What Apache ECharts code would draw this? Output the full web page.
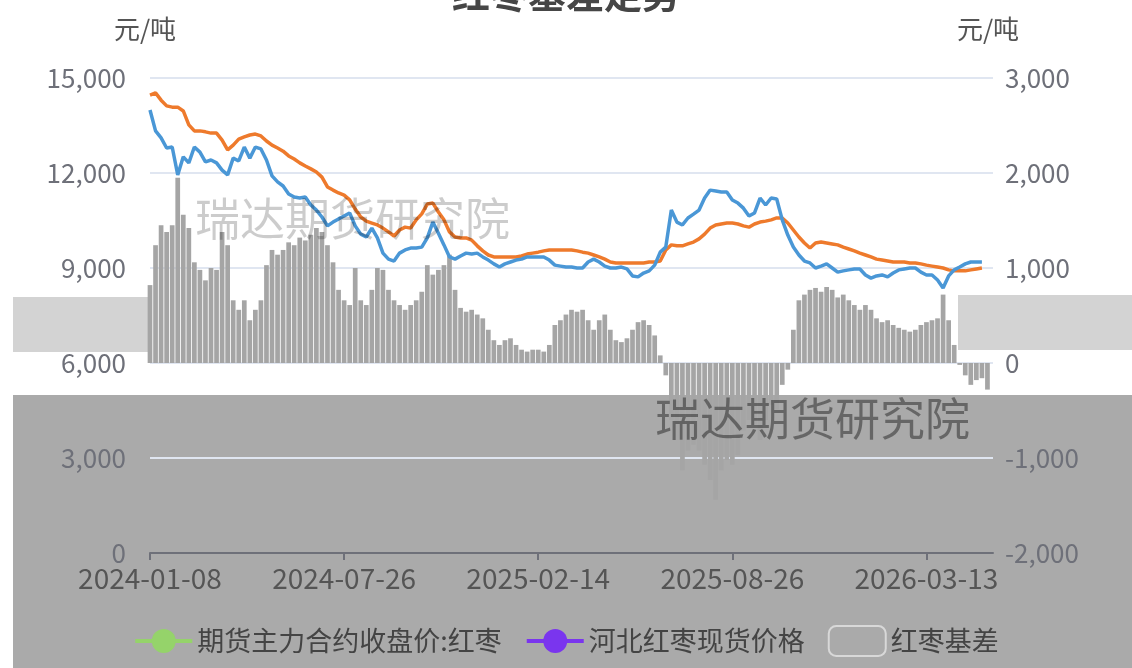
<!DOCTYPE html>
<html>
<head>
    <meta charset="utf-8">
    <title>红枣基差走势</title>
    <script src="https://cdn.jsdelivr.net/npm/echarts@6/dist/echarts.min.js"></script>
    <style>
        html, body { margin: 0; padding: 0; background: #fff; }
        #main { width: 1132px; height: 668px; }
    </style>
</head>
<body>
<div id="main"></div>
<script type="text/javascript">
    // 标注日期（每35个点一个标签）
    var anchorDates = ['2024-01-08', '2024-07-26', '2025-02-14', '2025-08-26', '2026-03-13'];
    var stepsPerLabel = 35;
    var extraPoints = 12;

    // 期货主力合约收盘价:红枣（元/吨）
    var futuresPrice = [
        13990, 13330, 13110, 12790, 12820, 11940, 12510, 12320, 12820, 12660,
        12350, 12410, 12320, 12090, 11940, 12470, 12380, 12820, 12470, 12820,
        12760, 12410, 11910, 11720, 11590, 11340, 11240, 11210, 11240, 10990,
        10830, 10610, 10330, 10450, 10550, 10640, 10740, 10330, 10070, 9980,
        10260, 9950, 9470, 9280, 9220, 9470, 9570, 9630, 9630, 9660,
        9950, 10450, 10100, 9730, 9350, 9280, 9380, 9470, 9440, 9470,
        9350, 9250, 9130, 9030, 9130, 9190, 9250, 9280, 9350, 9350,
        9350, 9350, 9250, 9090, 9060, 9030, 9030, 9000, 9000, 9190,
        9280, 9190, 9060, 9000, 9000, 9030, 8970, 8750, 8720, 8840,
        8910, 9090, 9500, 9660, 10830, 10450, 10360, 10580, 10700, 10830,
        11210, 11460, 11430, 11400, 11400, 11150, 11050, 10890, 10640, 10740,
        11210, 10990, 11210, 11180, 10520, 10040, 9660, 9410, 9220, 9160,
        9000, 9060, 9130, 9000, 8870, 8910, 8940, 8970, 8970, 8780,
        8680, 8750, 8780, 8720, 8840, 8940, 8970, 9000, 9000, 8870,
        8780, 8780, 8620, 8370, 8750, 8940, 9030, 9130, 9190, 9190,
        9190
    ];

    // 河北红枣现货价格（元/吨）
    var spotPrice = [
        14460, 14530, 14300, 14120, 14080, 14080, 13960, 13520, 13330, 13330,
        13300, 13260, 13260, 13040, 12730, 12880, 13070, 13140, 13200, 13230,
        13170, 13010, 12880, 12790, 12690, 12540, 12440, 12320, 12220, 12130,
        12030, 11870, 11560, 11460, 11370, 11300, 11150, 10860, 10610, 10480,
        10420, 10360, 10260, 10140, 10010, 10200, 10290, 10260, 10520, 10710,
        11020, 11050, 10770, 10520, 10140, 9980, 9950, 9950, 9880, 9700,
        9540, 9410, 9350, 9350, 9350, 9350, 9350, 9380, 9440, 9470,
        9500, 9540, 9570, 9570, 9570, 9570, 9570, 9540, 9500, 9470,
        9410, 9350, 9280, 9190, 9160, 9160, 9160, 9160, 9160, 9160,
        9190, 9190, 9220, 9570, 9730, 9700, 9700, 9760, 9820, 9920,
        10070, 10260, 10360, 10390, 10420, 10420, 10390, 10330, 10290, 10390,
        10450, 10480, 10520, 10580, 10580, 10420, 10200, 9980, 9790, 9630,
        9790, 9820, 9790, 9760, 9730, 9660, 9600, 9540, 9470, 9410,
        9350, 9280, 9250, 9220, 9190, 9190, 9190, 9160, 9160, 9130,
        9090, 9060, 9030, 9000, 8940, 8910, 8910, 8910, 8940, 8970,
        9000
    ];

    // 红枣基差（元/吨，右轴）
    var basis = [
        820, 1240, 1450, 1380, 1450, 1950, 1560, 1420, 1060, 980,
        870, 1000, 980, 1380, 1240, 660, 560, 660, 450, 560,
        660, 1030, 1190, 1140, 1190, 1270, 1240, 1320, 1290, 1350,
        1420, 1380, 1240, 1060, 770, 660, 610, 1000, 660, 610,
        770, 1000, 980, 770, 660, 610, 560, 610, 660, 750,
        1030, 930, 980, 1030, 1140, 770, 580, 540, 560, 510,
        470, 350, 240, 190, 240, 260, 190, 140, 120, 140,
        140, 120, 190, 400, 450, 510, 560, 540, 560, 450,
        350, 450, 510, 350, 240, 220, 260, 350, 430, 450,
        400, 290, 80, -130, -600, -810, -1130, -920, -860, -920,
        -1070, -1230, -1440, -1130, -1020, -1070, -970, -710, -600, -650,
        -810, -600, -440, -490, -230, -70, 350, 660, 720, 770,
        790, 750, 800, 770, 690, 720, 660, 610, 560, 610,
        560, 470, 430, 450, 400, 370, 350, 330, 350, 400,
        430, 450, 470, 720, 450, 190, -20, -130, -230, -180,
        -160, -280
    ];

    // 生成日期类目
    function buildDates() {
        var t = anchorDates.map(function (d) { return new Date(d + 'T00:00:00Z').getTime(); });
        var out = [];
        var day = 86400000;
        function fmt(ms) { return new Date(ms).toISOString().slice(0, 10); }
        for (var a = 0; a < t.length - 1; a++) {
            for (var k = 0; k < stepsPerLabel; k++) {
                var ms = t[a] + (t[a + 1] - t[a]) * k / stepsPerLabel;
                out.push(k === 0 ? anchorDates[a] : fmt(Math.round(ms / day) * day));
            }
        }
        var last = t[t.length - 1];
        var span = (last - t[t.length - 2]) / stepsPerLabel;
        out.push(anchorDates[anchorDates.length - 1]);
        for (var e = 1; e <= extraPoints; e++) {
            out.push(fmt(Math.round((last + span * e) / day) * day));
        }
        return out;
    }
    var dates = buildDates();

    var fontCN = 'Noto Sans CJK SC';
    var labelColor = '#6e7079';

    var myChart = echarts.init(document.getElementById('main'));

    myChart.setOption({
        backgroundColor: '#fff',
        textStyle: { fontFamily: fontCN },
        title: {
            text: '红枣基差走势',
            left: 'center',
            top: -30,
            textStyle: { fontSize: 38, fontWeight: 'bold', color: '#464646', fontFamily: fontCN }
        },
        graphic: [
            { type: 'rect', z: -10, silent: true, shape: { x: 13, y: 395, width: 1119, height: 273 }, style: { fill: '#aaaaaa' } },
            { type: 'rect', z: -10, silent: true, shape: { x: 13, y: 297, width: 137, height: 55 }, style: { fill: '#d3d3d3' } },
            { type: 'rect', z: -10, silent: true, shape: { x: 958, y: 295, width: 174, height: 55 }, style: { fill: '#d3d3d3' } },
            { type: 'text', z: 100, silent: true, left: 195, top: 196,
              style: { text: '瑞达期货研究院', fontSize: 45, fontFamily: fontCN, fill: 'rgba(0,0,0,0.2)' } },
            { type: 'text', z: 100, silent: true, left: 655, top: 396,
              style: { text: '瑞达期货研究院', fontSize: 45, fontFamily: fontCN, fill: 'rgba(0,0,0,0.4)' } }
        ],
        legend: {
            bottom: 6,
            left: 'center',
            itemWidth: 57,
            itemHeight: 30,
            itemGap: 23,
            textStyle: { fontSize: 27, color: '#444', fontFamily: fontCN },
            data: [
                { name: '期货主力合约收盘价:红枣', itemStyle: { color: '#95d36a' }, lineStyle: { color: '#95d36a', width: 4 } },
                { name: '河北红枣现货价格', itemStyle: { color: '#7a35ee' }, lineStyle: { color: '#7a35ee', width: 4 } },
                { name: '红枣基差', icon: 'roundRect', itemStyle: { color: '#aaaaaa', borderColor: '#d8d8d8', borderWidth: 2 } }
            ]
        },
        grid: {
            left: 150,
            right: 139,
            top: 78,
            bottom: 115,
            containLabel: false,
            outerBoundsMode: 'none'
        },
        xAxis: {
            type: 'category',
            data: dates,
            boundaryGap: false,
            axisLine: { lineStyle: { color: '#6e7079', width: 2 } },
            axisTick: { interval: stepsPerLabel - 1, length: 7, lineStyle: { color: '#6e7079', width: 2 } },
            axisLabel: { interval: stepsPerLabel - 1, fontSize: 28, color: '#555', margin: 11, fontFamily: fontCN }
        },
        yAxis: [
            {
                type: 'value',
                name: '元/吨',
                nameGap: 36,
                nameTextStyle: { fontSize: 26, color: '#555', fontFamily: fontCN, padding: [0, 10, 0, 0] },
                min: 0,
                max: 15000,
                interval: 3000,
                axisLine: { show: false },
                axisTick: { show: false },
                axisLabel: {
                    fontSize: 26, color: labelColor, margin: 24, fontFamily: fontCN,
                    formatter: function (v) { return v.toLocaleString('en-US'); }
                },
                splitLine: { lineStyle: { color: '#e0e6f1', width: 2 } }
            },
            {
                type: 'value',
                name: '元/吨',
                nameGap: 36,
                nameTextStyle: { fontSize: 26, color: '#555', fontFamily: fontCN, padding: [0, 10, 0, 0] },
                min: -2000,
                max: 3000,
                interval: 1000,
                axisLine: { show: false },
                axisTick: { show: false },
                axisLabel: {
                    fontSize: 26, color: labelColor, margin: 12, fontFamily: fontCN,
                    formatter: function (v) { return v.toLocaleString('en-US'); }
                },
                splitLine: { show: false }
            }
        ],
        series: [
            {
                name: '期货主力合约收盘价:红枣',
                type: 'line',
                data: futuresPrice,
                showSymbol: false,
                symbol: 'circle',
                symbolSize: 20,
                z: 5,
                itemStyle: { color: '#4a97d6' },
                lineStyle: { color: '#4a97d6', width: 3.5 }
            },
            {
                name: '河北红枣现货价格',
                type: 'line',
                data: spotPrice,
                showSymbol: false,
                symbol: 'circle',
                symbolSize: 20,
                z: 4,
                itemStyle: { color: '#ee7a2c' },
                lineStyle: { color: '#ee7a2c', width: 3.5 }
            },
            {
                name: '红枣基差',
                type: 'bar',
                yAxisIndex: 1,
                data: basis,
                barCategoryGap: '15%',
                z: 2,
                itemStyle: { color: '#a5a5a5' }
            }
        ]
    });
</script>
</body>
</html>
